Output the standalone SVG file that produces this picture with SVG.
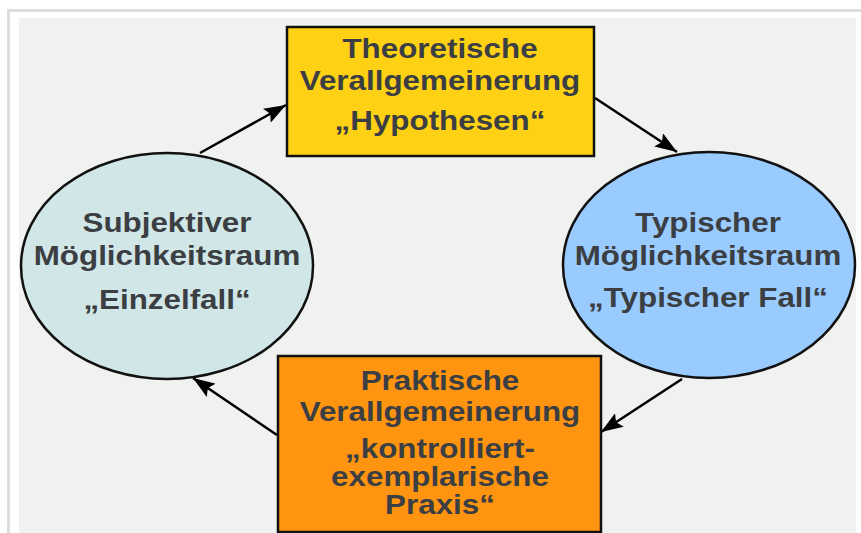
<svg xmlns="http://www.w3.org/2000/svg" width="861" height="533" viewBox="0 0 861 533">
  <defs>
    <marker id="arrow" viewBox="0 0 22 16" refX="22" refY="8" markerWidth="22" markerHeight="16" orient="auto" markerUnits="userSpaceOnUse">
      <path d="M0,0 L22,8 L0,16 L4,8 Z" fill="#000"/>
    </marker>
  </defs>
  <style>
    .lbl { font-family: "Liberation Sans", Arial, sans-serif; font-weight: bold; font-size: 28px; fill: #3b3e42; text-anchor: middle; }
    .box { stroke: #111; stroke-width: 2.5; }
    .conn { stroke: #000; stroke-width: 2.5; fill: none; marker-end: url(#arrow); }
  </style>
  <rect x="0" y="0" width="861" height="533" fill="#ffffff"/>
  <rect x="7" y="9" width="854" height="3" fill="#dedede"/>
  <rect x="7" y="9" width="3" height="524" fill="#dedede"/>
  <rect x="19" y="18" width="837" height="515" fill="#f0f2ef"/>

  <g id="connectors">
    <line class="conn" x1="200" y1="153" x2="286" y2="105"/>
    <line class="conn" x1="595" y1="98" x2="677" y2="152"/>
    <line class="conn" x1="682" y1="379" x2="601" y2="432"/>
    <line class="conn" x1="277" y1="435" x2="193" y2="378"/>
  </g>

  <g id="theoretische">
    <rect class="box" x="287" y="27" width="307" height="129" fill="#ffd114"/>
    <g transform="translate(440,0) scale(1.12,1)">
      <text class="lbl" x="0" y="58">Theoretische</text>
      <text class="lbl" x="0" y="90">Verallgemeinerung</text>
      <text class="lbl" x="0" y="130">„Hypothesen“</text>
    </g>
  </g>

  <g id="subjektiv">
    <ellipse class="box" cx="167" cy="266" rx="146" ry="113" fill="#d1e6e6" stroke-width="2"/>
    <g transform="translate(167,0) scale(1.12,1)">
      <text class="lbl" x="0" y="232">Subjektiver</text>
      <text class="lbl" x="0" y="265">Möglichkeitsraum</text>
      <text class="lbl" x="0" y="309">„Einzelfall“</text>
    </g>
  </g>

  <g id="typisch">
    <ellipse class="box" cx="709" cy="265" rx="146" ry="113" fill="#99cbff" stroke-width="2"/>
    <g transform="translate(708,0) scale(1.12,1)">
      <text class="lbl" x="0" y="232">Typischer</text>
      <text class="lbl" x="0" y="265">Möglichkeitsraum</text>
      <text class="lbl" x="0" y="307">„Typischer Fall“</text>
    </g>
  </g>

  <g id="praktisch">
    <rect class="box" x="278" y="356" width="323" height="176" fill="#ff9410"/>
    <g transform="translate(440,0) scale(1.12,1)">
      <text class="lbl" x="0" y="390">Praktische</text>
      <text class="lbl" x="0" y="421">Verallgemeinerung</text>
      <text class="lbl" x="0" y="458">„kontrolliert-</text>
      <text class="lbl" x="0" y="486">exemplarische</text>
      <text class="lbl" x="0" y="514">Praxis“</text>
    </g>
  </g>
</svg>
